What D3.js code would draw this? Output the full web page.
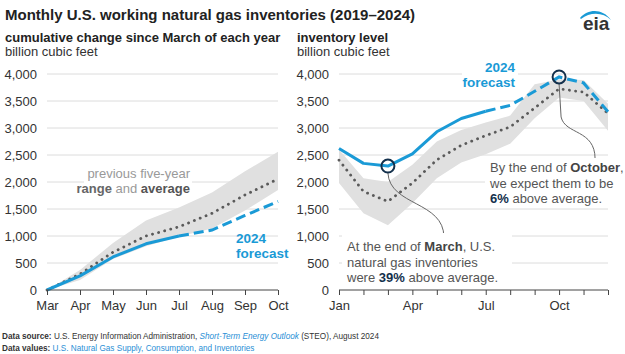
<!DOCTYPE html>
<html>
<head>
<meta charset="utf-8" />
<script src="https://cdn.jsdelivr.net/npm/d3@7/dist/d3.min.js"></script>
<style>
  body { margin: 0; background: #fff; }
  svg { font-family: "Liberation Sans", Arial, sans-serif; }
  .tick text { font-size: 13px; fill: #333; }
</style>
</head>
<body>
<div id="chart"></div>
<script>
// ---- data (billion cubic feet) ----
var cumMonths = ['Mar', 'Apr', 'May', 'Jun', 'Jul', 'Aug', 'Sep', 'Oct'];
var cum2024   = [0, 262, 612, 855, 1000, 1110, 1380, 1640];
var cumAvg    = [0, 295, 700, 1000, 1170, 1420, 1760, 2055];
var cumHigh   = [0, 370, 870, 1285, 1530, 1805, 2200, 2560];
var cumLow    = [0, 185, 575, 810, 990, 1140, 1470, 1850];

var invMonths = ['Jan', 'Feb', 'Mar', 'Apr', 'May', 'Jun', 'Jul', 'Aug', 'Sep', 'Oct', 'Nov', 'Dec'];
var inv2024   = [2620, 2345, 2295, 2520, 2930, 3175, 3310, 3420, 3680, 3945, 3835, 3300];
var invAvg    = [2405, 1825, 1640, 1980, 2410, 2680, 2860, 3020, 3370, 3725, 3665, 3270];
var invHigh   = [2600, 2070, 2000, 2320, 2750, 2965, 3100, 3230, 3810, 3900, 3890, 3450];
var invLow    = [1980, 1422, 1200, 1607, 2071, 2360, 2515, 2710, 3180, 3565, 3500, 2950];

var lastActual = 'Jul';   // solid through July, forecast after
var yTicks = [0, 500, 1000, 1500, 2000, 2500, 3000, 3500, 4000];
var invTickLabels = ['Jan', 'Apr', 'Jul', 'Oct'];

var W = 625, H = 354;
var blue = '#1a9ad6', dotGrey = '#5a5a5a', bandGrey = '#e0e0e0', navy = '#13304c';

var svg = d3.select('#chart').append('svg')
  .attr('width', W).attr('height', H);

var y = d3.scaleLinear().domain([0, 4000]).range([290, 74]);

// title block
svg.append('text').attr('x', 5).attr('y', 20)
  .style('font-size', '15px').style('font-weight', 'bold').attr('fill', '#222')
  .text('Monthly U.S. working natural gas inventories (2019\u20132024)');

function heading(x, t1) {
  svg.append('text').attr('x', x).attr('y', 42)
    .style('font-size', '13px').style('font-weight', 'bold').attr('fill', '#222').text(t1);
  svg.append('text').attr('x', x).attr('y', 56)
    .style('font-size', '13px').attr('fill', '#333').text('billion cubic feet');
}
heading(5, 'cumulative change since March of each year');
heading(297, 'inventory level');

// eia logo
var logo = svg.append('g');
logo.append('path')
  .attr('d', 'M580,18 C588,9 602,8 611,20 C603,12 590,12 581,19 Z')
  .attr('fill', blue);
logo.append('text').attr('x', 583).attr('y', 30)
  .style('font-size', '19px').style('font-weight', 'bold').attr('fill', '#333')
  .text('eia');

function panel(months, ser, avg, hi, lo, x0, x1, tickLabels) {
  var x = d3.scalePoint().domain(months).range([x0, x1]);
  var g = svg.append('g');

  // gridlines
  g.selectAll('.grid').data(yTicks.slice(1)).enter().append('line')
    .attr('x1', x0).attr('x2', x1)
    .attr('y1', function(d) { return y(d); }).attr('y2', function(d) { return y(d); })
    .attr('stroke', '#dcdcdc').attr('stroke-width', 1);

  // y axis labels
  var ya = d3.axisLeft(y).tickValues(yTicks).tickSize(0).tickPadding(10)
    .tickFormat(d3.format(','));
  g.append('g').attr('transform', 'translate(' + x0 + ',0)').call(ya)
    .call(function(s) { s.select('.domain').remove(); });

  var idx = d3.range(months.length);
  // range band
  var area = d3.area()
    .x(function(i) { return x(months[i]); })
    .y0(function(i) { return y(lo[i]); })
    .y1(function(i) { return y(hi[i]); });
  g.append('path').datum(idx).attr('d', area).attr('fill', bandGrey);

  var line = function(vals) {
    return d3.line().x(function(i) { return x(months[i]); }).y(function(i) { return y(vals[i]); });
  };

  // average dotted
  g.append('path').datum(idx).attr('d', line(avg))
    .attr('fill', 'none').attr('stroke', dotGrey).attr('stroke-width', 2.8)
    .attr('stroke-linecap', 'round').attr('stroke-dasharray', '0.1 6.2');

  // 2024 solid + dashed
  var k = months.indexOf(lastActual);
  g.append('path').datum(idx.slice(0, k + 1)).attr('d', line(ser))
    .attr('fill', 'none').attr('stroke', blue).attr('stroke-width', 3)
    .attr('stroke-linejoin', 'round');
  g.append('path').datum(idx.slice(k)).attr('d', line(ser))
    .attr('fill', 'none').attr('stroke', blue).attr('stroke-width', 3)
    .attr('stroke-dasharray', '10 5');

  // x axis
  var xa = d3.axisBottom(x).tickSize(5).tickPadding(6)
    .tickFormat(function(d) { return tickLabels.indexOf(d) >= 0 ? d : ''; });
  var ax = g.append('g').attr('transform', 'translate(0,' + y(0) + ')').call(xa);
  ax.select('.domain').attr('stroke', '#444').attr('d', 'M' + x0 + ',0H' + x1);
  ax.selectAll('.tick line').attr('stroke', '#444');

  return { x: x, g: g };
}

var left = panel(cumMonths, cum2024, cumAvg, cumHigh, cumLow, 47, 278, cumMonths);
var right = panel(invMonths, inv2024, invAvg, invHigh, invLow, 339, 608, invTickLabels);

// ---- text helper ----
function textLines(parent, x, y0, lh, anchor, lines, size) {
  var t = parent.append('text').attr('text-anchor', anchor).style('font-size', size + 'px');
  lines.forEach(function(parts, li) {
    parts.forEach(function(p, pi) {
      var ts = t.append('tspan').text(p[0]).attr('fill', p[1]);
      if (p[2]) ts.style('font-weight', 'bold');
      if (p[3]) ts.style('font-style', 'italic');
      if (pi === 0) ts.attr('x', x).attr('y', y0 + li * lh);
    });
  });
  return t;
}

// ---- left panel labels ----
// white backing so gridlines break behind the label
svg.append('rect').attr('x', 84).attr('y', 163).attr('width', 108).attr('height', 31).attr('fill', '#fff');
textLines(svg, 190, 178, 15, 'end', [
  [['previous five-year', '#999']],
  [['range', '#666', true], [' and ', '#999'], ['average', '#555', true]]
], 13);

textLines(svg, 236, 243, 15, 'start', [
  [['2024', blue, true]],
  [['forecast', blue, true]]
], 13.5);

// ---- right panel labels ----
svg.append('rect').attr('x', 462).attr('y', 57).attr('width', 56).attr('height', 31).attr('fill', '#fff');
textLines(svg, 515, 72, 15, 'end', [
  [['2024', blue, true]],
  [['forecast', blue, true]]
], 13.5);

var rx = right.x;
// leader lines
var mX = rx('Mar'), mY = y(inv2024[2]);
var oX = rx('Oct'), oY = y(inv2024[9]);
svg.append('path')
  .attr('d', 'M' + mX + ',' + (mY + 7) + ' C' + (mX + 2) + ',' + (mY + 40) + ' ' + (mX + 56) + ',' + (mY + 35) + ' ' + (mX + 56) + ',' + (mY + 71))
  .attr('fill', 'none').attr('stroke', '#666').attr('stroke-width', 1);
svg.append('path')
  .attr('d', 'M' + oX + ',' + (oY + 7) + ' L' + (oX + 2) + ',' + (oY + 40) + ' C' + (oX + 6) + ',' + (oY + 58) + ' ' + (oX + 36) + ',' + (oY + 52) + ' ' + (oX + 36) + ',' + (oY + 82))
  .attr('fill', 'none').attr('stroke', '#666').attr('stroke-width', 1);

svg.append('rect').attr('x', 342).attr('y', 233).attr('width', 170).attr('height', 53).attr('fill', '#fff');
textLines(svg, 347, 251, 15.5, 'start', [
  [['At the end of ', '#555'], ['March', '#444', true], [', U.S.', '#555']],
  [['natural gas inventories', '#555']],
  [['were ', '#555'], ['39%', navy, true], [' above average.', '#555']]
], 13);

svg.append('rect').attr('x', 485).attr('y', 158).attr('width', 140).attr('height', 48).attr('fill', '#fff');
textLines(svg, 490, 172, 15.5, 'start', [
  [['By the end of ', '#555'], ['October', '#444', true], [',', '#555']],
  [['we expect them to be', '#555']],
  [['6%', navy, true], [' above average.', '#555']]
], 13);

// circles
[[mX, mY], [oX, oY]].forEach(function(p) {
  svg.append('circle').attr('cx', p[0]).attr('cy', p[1]).attr('r', 6.5)
    .attr('fill', 'none').attr('stroke', navy).attr('stroke-width', 2);
});

// ---- footer ----
textLines(svg, 2, 339, 12, 'start', [
  [['Data source: ', '#333', true], ['U.S. Energy Information Administration, ', '#333'],
   ['Short-Term Energy Outlook', '#2a8fd6', false, true], [' (STEO), August 2024', '#333']],
  [['Data values: ', '#333', true], ['U.S. Natural Gas Supply, Consumption, and Inventories', '#2a8fd6']]
], 8.2);
</script>
</body>
</html>
